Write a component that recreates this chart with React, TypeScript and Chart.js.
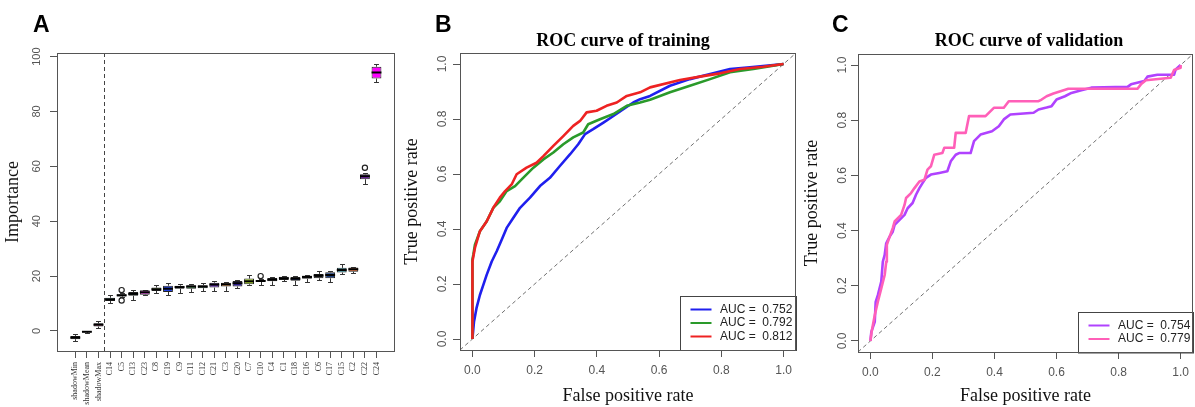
import React, { useEffect, useRef } from "react";
import { Chart, registerables } from "chart.js";

Chart.register(...registerables);

const SERIF = "'Liberation Serif', 'DejaVu Serif', serif";
const SANS = "'Liberation Sans', Arial, sans-serif";

// ---------------- Panel A : Boruta importance boxplots ----------------
const featureNames = [
  "shadowMin", "shadowMean", "shadowMax", "C14", "C5", "C13", "C23", "C8", "C19", "C9",
  "C11", "C12", "C21", "C3", "C20", "C7", "C10", "C4", "C1", "C18", "C16", "C6", "C17",
  "C15", "C2", "C22", "C24",
];
const shadowCount = 3;
const boxMin = [-3.5, -0.7, 1.1, 10.3, 12.2, 11.2, 13.0, 13.7, 13.2, 14.0, 14.1, 14.7, 14.6, 14.6, 15.6, 16.6, 16.7, 16.7, 18.2, 16.9, 18.0, 18.5, 17.7, 20.8, 21.3, 53.6, 90.9];
const boxQ1 = [-3.0, -0.5, 1.6, 10.9, 12.6, 12.8, 13.2, 14.6, 14.2, 15.4, 15.4, 15.6, 15.8, 16.2, 16.2, 17.0, 17.9, 18.1, 18.6, 18.3, 19.0, 19.2, 19.2, 21.3, 21.6, 55.3, 92.0];
const boxMedian = [-2.4, -0.3, 2.3, 11.5, 13.0, 13.5, 14.1, 15.2, 15.4, 16.0, 16.2, 16.2, 16.9, 17.0, 17.4, 18.1, 18.2, 18.7, 19.2, 19.0, 19.7, 20.2, 20.4, 22.2, 22.5, 56.4, 94.2];
const boxQ3 = [-1.8, -0.1, 2.8, 12.1, 13.4, 14.2, 14.8, 15.8, 16.5, 16.5, 16.7, 16.7, 17.6, 17.6, 18.2, 19.1, 18.6, 19.3, 19.8, 19.7, 20.1, 20.8, 21.4, 23.0, 23.1, 57.1, 96.3];
const boxMax = [-1.2, 0.1, 3.8, 13.2, 13.8, 15.1, 15.0, 16.6, 17.4, 17.2, 17.0, 17.6, 18.1, 17.8, 18.4, 20.3, 18.8, 19.7, 20.0, 19.9, 20.3, 21.7, 21.7, 24.4, 23.3, 57.4, 97.3];
const boxColors = [
  "#111111", "#111111", "#b8336a", "#2e9c8c", "#1a1a1a", "#2e8b6e", "#cc33cc", "#8dc63f", "#1f3fe0", "#1a1a1a",
  "#3a9a4a", "#3aa070", "#6a2fc0", "#e07b20", "#3320a0", "#a8d42a", "#555555", "#1a1a1a", "#1a1a1a", "#2050d0",
  "#1a1a1a", "#1a1a1a", "#1e3f80", "#2aaabb", "#e05a1f", "#7a2ab0", "#ff00ff",
];
const outlierFeature = ["C5", "C5", "C10", "C22"];
const outlierValue = [14.9, 11.1, 20.0, 59.5];
const importanceTicks = [0, 20, 40, 60, 80, 100];

// ---------------- Panel B : ROC of training ----------------
const rocTicks = [0, 0.2, 0.4, 0.6, 0.8, 1.0];
const trainAuc = ["0.752", "0.792", "0.812"];
const trainColors = ["#1f1fee", "#2a9a2a", "#ee2222"];
const trainFpr1 = [0, 0.005, 0.013, 0.024, 0.035, 0.046, 0.062, 0.078, 0.094, 0.11, 0.131, 0.153, 0.185, 0.217, 0.249, 0.281, 0.314, 0.34, 0.362, 0.388, 0.421, 0.453, 0.485, 0.517, 0.539, 0.571, 0.635, 0.699, 0.764, 0.828, 0.892, 0.967, 1];
const trainTpr1 = [0, 0.063, 0.112, 0.16, 0.197, 0.234, 0.282, 0.319, 0.361, 0.404, 0.44, 0.477, 0.514, 0.556, 0.586, 0.629, 0.672, 0.708, 0.745, 0.763, 0.787, 0.811, 0.836, 0.86, 0.872, 0.884, 0.921, 0.945, 0.964, 0.982, 0.988, 0.996, 1];
const trainFpr2 = [0, 0, 0.003, 0.008, 0.024, 0.046, 0.067, 0.088, 0.11, 0.137, 0.163, 0.196, 0.228, 0.26, 0.292, 0.324, 0.356, 0.372, 0.41, 0.453, 0.496, 0.539, 0.571, 0.635, 0.699, 0.764, 0.828, 0.903, 0.967, 1];
const trainTpr2 = [0, 0.29, 0.307, 0.343, 0.392, 0.428, 0.477, 0.501, 0.538, 0.556, 0.586, 0.623, 0.653, 0.678, 0.708, 0.733, 0.751, 0.781, 0.799, 0.818, 0.848, 0.86, 0.87, 0.897, 0.921, 0.945, 0.97, 0.982, 0.994, 1];
const trainFpr3 = [0, 0, 0.008, 0.024, 0.046, 0.067, 0.088, 0.105, 0.126, 0.142, 0.174, 0.206, 0.228, 0.26, 0.292, 0.324, 0.346, 0.367, 0.399, 0.431, 0.464, 0.496, 0.539, 0.571, 0.667, 0.731, 0.796, 0.86, 0.935, 1];
const trainTpr3 = [0, 0.282, 0.331, 0.392, 0.428, 0.477, 0.514, 0.538, 0.562, 0.599, 0.623, 0.641, 0.665, 0.702, 0.738, 0.775, 0.793, 0.824, 0.83, 0.848, 0.86, 0.884, 0.897, 0.915, 0.942, 0.954, 0.966, 0.982, 0.99, 1];

// ---------------- Panel C : ROC of validation ----------------
const valAuc = ["0.754", "0.779"];
const valColors = ["#b042ff", "#ff5fb8"];
const valFpr1 = [0, 0.003, 0.014, 0.017, 0.024, 0.035, 0.04, 0.046, 0.051, 0.062, 0.072, 0.078, 0.094, 0.11, 0.12, 0.136, 0.147, 0.158, 0.168, 0.179, 0.195, 0.222, 0.248, 0.259, 0.275, 0.286, 0.323, 0.334, 0.355, 0.392, 0.414, 0.43, 0.451, 0.526, 0.542, 0.568, 0.584, 0.6, 0.627, 0.648, 0.68, 0.712, 0.829, 0.84, 0.883, 0.893, 0.925, 0.979, 0.984, 1];
const valTpr1 = [0, 0.033, 0.069, 0.142, 0.166, 0.215, 0.287, 0.312, 0.354, 0.378, 0.396, 0.421, 0.439, 0.457, 0.481, 0.5, 0.53, 0.554, 0.572, 0.591, 0.603, 0.609, 0.615, 0.651, 0.675, 0.681, 0.681, 0.724, 0.748, 0.76, 0.778, 0.803, 0.821, 0.827, 0.839, 0.846, 0.851, 0.875, 0.887, 0.899, 0.909, 0.918, 0.921, 0.93, 0.942, 0.958, 0.965, 0.965, 0.984, 1];
const valFpr2 = [0, 0.004, 0.014, 0.024, 0.035, 0.046, 0.051, 0.053, 0.062, 0.072, 0.078, 0.099, 0.11, 0.115, 0.131, 0.142, 0.158, 0.174, 0.184, 0.195, 0.206, 0.232, 0.238, 0.27, 0.275, 0.307, 0.318, 0.371, 0.398, 0.43, 0.446, 0.542, 0.552, 0.568, 0.59, 0.638, 0.861, 0.872, 0.888, 0.968, 0.979, 1, 1];
const valTpr2 = [0, 0.033, 0.093, 0.142, 0.19, 0.239, 0.287, 0.348, 0.378, 0.409, 0.433, 0.457, 0.493, 0.518, 0.536, 0.554, 0.578, 0.584, 0.621, 0.633, 0.675, 0.681, 0.7, 0.7, 0.754, 0.754, 0.815, 0.815, 0.845, 0.845, 0.869, 0.869, 0.875, 0.887, 0.897, 0.914, 0.914, 0.93, 0.945, 0.954, 0.982, 0.99, 1];

// ---------------- plugins ----------------
function framePlugin() {
  return {
    id: "frame",
    afterDraw(chart: any) {
      const { ctx, chartArea: a } = chart;
      ctx.save();
      ctx.strokeStyle = "#555";
      ctx.lineWidth = 1;
      const l = Math.round(a.left) + 0.5;
      const t = Math.round(a.top) + 0.5;
      const r = Math.round(a.right) - 0.5;
      const b = Math.round(a.bottom) + 0.5;
      ctx.strokeRect(l, t, r - l, b - t);
      ctx.restore();
    },
  };
}

function decorPlugin(letter: string, letterX: number, title: string, titleX: number) {
  return {
    id: "decor",
    afterDraw(chart: any) {
      const ctx = chart.ctx;
      ctx.save();
      ctx.fillStyle = "#000";
      ctx.textBaseline = "alphabetic";
      ctx.textAlign = "left";
      ctx.font = `bold 23px ${SANS}`;
      ctx.fillText(letter, letterX, 32);
      if (title) {
        ctx.font = `bold 18px ${SERIF}`;
        ctx.textAlign = "center";
        ctx.fillText(title, titleX, 46);
      }
      ctx.restore();
    },
  };
}

function rotatedYLabels(baseX: number, size: number, fmt: (v: number) => string) {
  return {
    id: "rotY",
    afterDraw(chart: any) {
      const s = chart.scales.y;
      const ctx = chart.ctx;
      ctx.save();
      ctx.fillStyle = "#555";
      ctx.font = `${size}px ${SANS}`;
      ctx.textAlign = "center";
      ctx.textBaseline = "alphabetic";
      for (const t of s.ticks) {
        const y = s.getPixelForValue(t.value);
        ctx.save();
        ctx.translate(baseX, y);
        ctx.rotate(-Math.PI / 2);
        ctx.fillText(fmt(t.value), 0, 0);
        ctx.restore();
      }
      ctx.restore();
    },
  };
}

const diagonalPlugin = {
  id: "diag",
  beforeDatasetsDraw(chart: any) {
    const { ctx, chartArea: a, scales } = chart;
    const x = scales.x;
    const y = scales.y;
    const lo = Math.max(x.min, y.min);
    const hi = Math.min(x.max, y.max);
    ctx.save();
    ctx.beginPath();
    ctx.rect(a.left, a.top, a.right - a.left, a.bottom - a.top);
    ctx.clip();
    ctx.strokeStyle = "#707070";
    ctx.lineWidth = 1;
    ctx.setLineDash([4, 3]);
    ctx.beginPath();
    ctx.moveTo(x.getPixelForValue(lo), y.getPixelForValue(lo));
    ctx.lineTo(x.getPixelForValue(hi), y.getPixelForValue(hi));
    ctx.stroke();
    ctx.restore();
  },
};

function aucLegend(boxWidth: number) {
  return {
    id: "aucLegend",
    afterDraw(chart: any) {
      const { ctx, chartArea: a } = chart;
      const ds = chart.data.datasets;
      const row = 13.5;
      const h = row * (ds.length + 1);
      const left = Math.round(a.right - boxWidth);
      const top = Math.round(a.bottom - h);
      ctx.save();
      ctx.fillStyle = "#fff";
      ctx.fillRect(left, top, boxWidth, h);
      ctx.strokeStyle = "#444";
      ctx.lineWidth = 1;
      ctx.strokeRect(left + 0.5, top + 0.5, boxWidth, h);
      ctx.font = `12px ${SANS}`;
      ctx.textBaseline = "middle";
      ctx.textAlign = "left";
      ds.forEach((d: any, i: number) => {
        const y = top + row * (i + 1);
        ctx.strokeStyle = d.borderColor;
        ctx.lineWidth = 2;
        ctx.beginPath();
        ctx.moveTo(left + 10.5, y);
        ctx.lineTo(left + 31.5, y);
        ctx.stroke();
        ctx.fillStyle = "#222";
        ctx.fillText(d.label, left + 40, y);
      });
      ctx.restore();
    },
  };
}

const boxWhiskerPlugin = {
  id: "boxWhisker",
  beforeDatasetsDraw(chart: any) {
    const { ctx, scales } = chart;
    const x = scales.x;
    const y = scales.y;
    const bars = chart.getDatasetMeta(0).data;
    ctx.save();
    ctx.strokeStyle = "#333";
    ctx.lineWidth = 1;
    featureNames.forEach((_, i) => {
      const px = Math.round(x.getPixelForValue(i)) + 0.5;
      const w = bars[i].width * 0.5;
      const pairs = [
        [boxQ3[i], boxMax[i]],
        [boxQ1[i], boxMin[i]],
      ];
      pairs.forEach(([from, to]) => {
        const y0 = y.getPixelForValue(from);
        const y1 = Math.round(y.getPixelForValue(to)) + 0.5;
        ctx.beginPath();
        ctx.moveTo(px, y0);
        ctx.lineTo(px, y1);
        ctx.moveTo(px - w / 2, y1);
        ctx.lineTo(px + w / 2, y1);
        ctx.stroke();
      });
    });
    ctx.restore();
  },
  afterDatasetsDraw(chart: any) {
    const { ctx, scales } = chart;
    const x = scales.x;
    const y = scales.y;
    const bars = chart.getDatasetMeta(0).data;
    ctx.save();
    ctx.strokeStyle = "#000";
    ctx.lineWidth = 2;
    featureNames.forEach((_, i) => {
      const px = x.getPixelForValue(i);
      const w = bars[i].width;
      const py = y.getPixelForValue(boxMedian[i]);
      ctx.beginPath();
      ctx.moveTo(px - w / 2, py);
      ctx.lineTo(px + w / 2, py);
      ctx.stroke();
    });
    ctx.restore();
  },
};

const separatorPlugin = {
  id: "separator",
  beforeDatasetsDraw(chart: any) {
    const { ctx, chartArea: a, scales } = chart;
    const px = Math.round(scales.x.getPixelForValue(shadowCount - 0.5)) + 0.5;
    ctx.save();
    ctx.strokeStyle = "#444";
    ctx.lineWidth = 1;
    ctx.setLineDash([4, 3]);
    ctx.beginPath();
    ctx.moveTo(px, a.top);
    ctx.lineTo(px, a.bottom);
    ctx.stroke();
    ctx.restore();
  },
};

// ---------------- configs ----------------
function configA(): any {
  const idx = featureNames.map((_, i) => i);
  return {
    type: "bar",
    data: {
      datasets: [
        {
          type: "bar",
          label: "Importance",
          data: idx.map((i) => ({ x: i, y: [boxQ1[i], boxQ3[i]] })),
          backgroundColor: boxColors,
          borderColor: "#222",
          borderWidth: 1,
          borderSkipped: false,
          categoryPercentage: 1,
          barPercentage: 0.85,
          order: 2,
        },
        {
          type: "scatter",
          label: "Outliers",
          data: outlierFeature.map((f, k) => ({ x: featureNames.indexOf(f), y: outlierValue[k] })),
          pointRadius: 2.6,
          pointBorderWidth: 1.2,
          pointBorderColor: "#222",
          pointBackgroundColor: "rgba(255,255,255,0)",
          order: 1,
        },
      ],
    },
    options: {
      animation: false,
      responsive: false,
      devicePixelRatio: 1,
      events: [],
      layout: { padding: { top: 53, right: 4, bottom: 0, left: 0 } },
      plugins: { legend: { display: false }, tooltip: { enabled: false } },
      scales: {
        x: {
          type: "linear",
          min: -1.58,
          max: 27.58,
          offset: false,
          afterBuildTicks: (s: any) => {
            s.ticks = idx.map((v) => ({ value: v }));
          },
          afterFit: (s: any) => {
            s.height = 56;
          },
          ticks: {
            autoSkip: false,
            minRotation: 90,
            maxRotation: 90,
            padding: 4,
            color: "#333",
            font: { family: SERIF, size: 8 },
            callback: (v: number) => featureNames[v] ?? "",
          },
          grid: { drawOnChartArea: false, drawTicks: true, tickLength: 7, color: "#555", offset: false },
          border: { display: false },
        },
        y: {
          type: "linear",
          min: -7.3,
          max: 101.3,
          afterBuildTicks: (s: any) => {
            s.ticks = importanceTicks.map((v) => ({ value: v }));
          },
          afterFit: (s: any) => {
            s.width = 57;
          },
          ticks: { display: false },
          grid: { drawOnChartArea: false, drawTicks: true, tickLength: 7, color: "#555" },
          border: { display: false },
          title: {
            display: true,
            text: "Importance",
            color: "#111",
            font: { family: SERIF, size: 18 },
            padding: { top: 2.5, bottom: 0 },
          },
        },
      },
    },
    plugins: [
      separatorPlugin,
      boxWhiskerPlugin,
      rotatedYLabels(39.5, 11, (v) => String(v)),
      framePlugin(),
      decorPlugin("A", 33, "", 0),
    ],
  };
}

function rocConfig(
  fprs: number[][],
  tprs: number[][],
  aucs: string[],
  colors: string[],
  geo: { top: number; right: number; yWidth: number; xHeight: number; yLabelX: number; letter: string; letterX: number; title: string; titleX: number; legendWidth: number }
): any {
  return {
    type: "line",
    data: {
      datasets: fprs.map((fpr, k) => ({
        label: `AUC =  ${aucs[k]}`,
        data: fpr.map((x, i) => ({ x, y: tprs[k][i] })),
        borderColor: colors[k],
        borderWidth: 2.6,
        pointRadius: 0,
        tension: 0,
        fill: false,
        borderJoinStyle: "round",
        order: fprs.length - k,
      })),
    },
    options: {
      animation: false,
      responsive: false,
      devicePixelRatio: 1,
      events: [],
      layout: { padding: { top: geo.top, right: geo.right, bottom: 0, left: 0 } },
      plugins: { legend: { display: false }, tooltip: { enabled: false } },
      scales: {
        x: {
          type: "linear",
          min: -0.04,
          max: 1.04,
          afterBuildTicks: (s: any) => {
            s.ticks = rocTicks.map((v) => ({ value: v }));
          },
          afterFit: (s: any) => {
            s.height = geo.xHeight;
          },
          ticks: {
            padding: 6,
            color: "#555",
            font: { family: SANS, size: 12 },
            maxRotation: 0,
            callback: (v: number) => v.toFixed(1),
          },
          grid: { drawOnChartArea: false, drawTicks: true, tickLength: 7, color: "#555" },
          border: { display: false },
          title: {
            display: true,
            text: "False positive rate",
            color: "#111",
            font: { family: SERIF, size: 18 },
            padding: { top: 0, bottom: 0 },
          },
        },
        y: {
          type: "linear",
          min: -0.04,
          max: 1.04,
          afterBuildTicks: (s: any) => {
            s.ticks = rocTicks.map((v) => ({ value: v }));
          },
          afterFit: (s: any) => {
            s.width = geo.yWidth;
          },
          ticks: { display: false },
          grid: { drawOnChartArea: false, drawTicks: true, tickLength: 7, color: "#555" },
          border: { display: false },
          title: {
            display: true,
            text: "True positive rate",
            color: "#111",
            font: { family: SERIF, size: 18 },
            padding: { top: 1, bottom: 0 },
          },
        },
      },
    },
    plugins: [
      diagonalPlugin,
      rotatedYLabels(geo.yLabelX, 12, (v) => v.toFixed(1)),
      aucLegend(geo.legendWidth),
      framePlugin(),
      decorPlugin(geo.letter, geo.letterX, geo.title, geo.titleX),
    ],
  };
}

export default function App() {
  const refA = useRef<HTMLCanvasElement>(null);
  const refB = useRef<HTMLCanvasElement>(null);
  const refC = useRef<HTMLCanvasElement>(null);

  useEffect(() => {
    const charts = [
      new Chart(refA.current as HTMLCanvasElement, configA()),
      new Chart(
        refB.current as HTMLCanvasElement,
        rocConfig([trainFpr1, trainFpr2, trainFpr3], [trainTpr1, trainTpr2, trainTpr3], trainAuc, trainColors, {
          top: 53, right: 4, yWidth: 60, xHeight: 57, yLabelX: 46, letter: "B", letterX: 35,
          title: "ROC curve of training", titleX: 223, legendWidth: 116,
        })
      ),
      new Chart(
        refC.current as HTMLCanvasElement,
        rocConfig([valFpr1, valFpr2], [valTpr1, valTpr2], valAuc, valColors, {
          top: 54, right: 1, yWidth: 58, xHeight: 55, yLabelX: 45.5, letter: "C", letterX: 32,
          title: "ROC curve of validation", titleX: 229, legendWidth: 115,
        })
      ),
    ];
    return () => charts.forEach((c) => c.destroy());
  }, []);

  return (
    <div style={{ position: "absolute", left: 0, top: 0, width: 1195, height: 407, background: "#fff", overflow: "hidden" }}>
      <canvas ref={refA} width={400} height={407} style={{ position: "absolute", left: 0, top: 0, width: 400, height: 407 }} />
      <canvas ref={refB} width={400} height={407} style={{ position: "absolute", left: 400, top: 0, width: 400, height: 407 }} />
      <canvas ref={refC} width={395} height={407} style={{ position: "absolute", left: 800, top: 0, width: 395, height: 407 }} />
    </div>
  );
}
